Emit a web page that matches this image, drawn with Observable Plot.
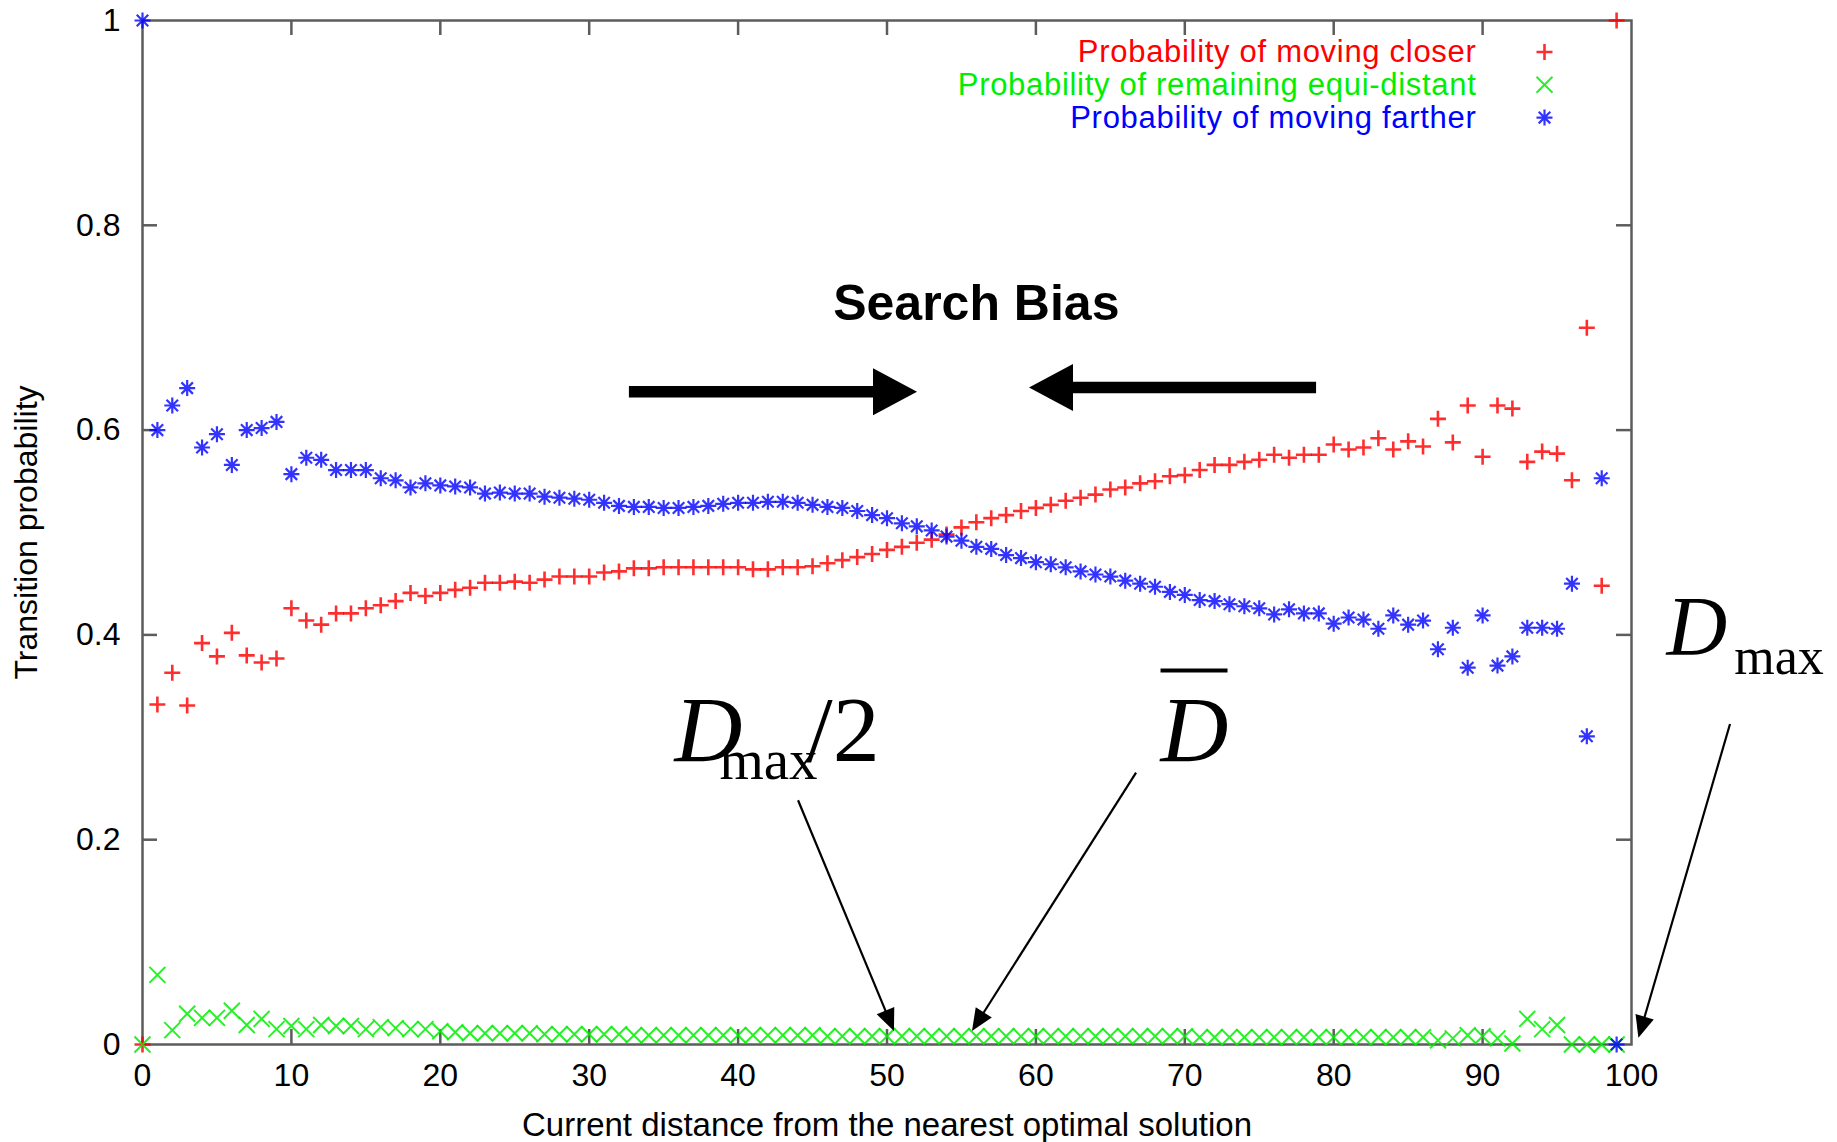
<!DOCTYPE html>
<html><head><meta charset="utf-8">
<script src="https://cdn.jsdelivr.net/npm/d3@7"></script>
<script src="https://cdn.jsdelivr.net/npm/@observablehq/plot@0.6"></script>
<style>html,body{margin:0;padding:0;background:#fff;} svg{display:block;}</style>
</head><body><div id="chart"></div>
<script>
// ---------- data ----------
const distance = Array.from({length: 100}, (_, i) => i);
const pCloser = [
  0, 0.332, 0.363, 0.331, 0.392, 0.379, 0.402, 0.380, 0.373, 0.377,
  0.426, 0.414, 0.410, 0.421, 0.421, 0.426, 0.429, 0.433, 0.441, 0.438,
  0.441, 0.444, 0.446, 0.451, 0.451, 0.452, 0.451, 0.454, 0.457, 0.457,
  0.457, 0.461, 0.462, 0.465, 0.465, 0.466, 0.466, 0.466, 0.466, 0.466,
  0.466, 0.464, 0.464, 0.466, 0.466, 0.467, 0.470, 0.473, 0.476, 0.479,
  0.483, 0.486, 0.490, 0.493, 0.498, 0.505, 0.510, 0.514, 0.517, 0.521,
  0.524, 0.527, 0.531, 0.534, 0.537, 0.542, 0.544, 0.548, 0.550, 0.555,
  0.556, 0.561, 0.566, 0.566, 0.569, 0.571, 0.576, 0.573, 0.576, 0.576,
  0.586, 0.581, 0.583, 0.592, 0.581, 0.589, 0.584, 0.611, 0.588, 0.624,
  0.574, 0.624, 0.621, 0.569, 0.579, 0.577, 0.551, 0.700, 0.448, 1.0
];
const pEqui = [
  0, 0.068, 0.014, 0.030, 0.026, 0.026, 0.033, 0.019, 0.025, 0.015,
  0.018, 0.015, 0.019, 0.018, 0.018, 0.015, 0.017, 0.016, 0.015, 0.015,
  0.013, 0.012, 0.011, 0.011, 0.011, 0.011, 0.011, 0.010, 0.010, 0.010,
  0.010, 0.010, 0.010, 0.009, 0.009, 0.009, 0.009, 0.009, 0.009, 0.009,
  0.009, 0.009, 0.009, 0.009, 0.009, 0.009, 0.008, 0.008, 0.008, 0.008,
  0.008, 0.008, 0.008, 0.008, 0.008, 0.008, 0.008, 0.008, 0.008, 0.008,
  0.008, 0.008, 0.008, 0.008, 0.008, 0.008, 0.008, 0.008, 0.008, 0.008,
  0.008, 0.007, 0.007, 0.007, 0.007, 0.007, 0.007, 0.007, 0.007, 0.007,
  0.007, 0.007, 0.007, 0.007, 0.007, 0.007, 0.007, 0.004, 0.006, 0.009,
  0.008, 0.006, 0.001, 0.025, 0.015, 0.019, 0.0, 0.0, 0.0, 0.0
];
const pFarther = [
  1.0, 0.600, 0.624, 0.641, 0.583, 0.596, 0.566, 0.600, 0.602, 0.608,
  0.557, 0.573, 0.571, 0.561, 0.561, 0.561, 0.553, 0.551, 0.544, 0.548,
  0.546, 0.545, 0.544, 0.538, 0.539, 0.538, 0.538, 0.535, 0.534, 0.533,
  0.532, 0.529, 0.526, 0.525, 0.525, 0.524, 0.524, 0.525, 0.526, 0.528,
  0.529, 0.529, 0.530, 0.530, 0.529, 0.527, 0.525, 0.524, 0.521, 0.517,
  0.514, 0.509, 0.506, 0.502, 0.496, 0.492, 0.486, 0.484, 0.478, 0.475,
  0.471, 0.469, 0.466, 0.462, 0.459, 0.457, 0.453, 0.450, 0.447, 0.442,
  0.439, 0.434, 0.433, 0.430, 0.428, 0.426, 0.420, 0.425, 0.421, 0.421,
  0.411, 0.417, 0.415, 0.406, 0.419, 0.410, 0.414, 0.386, 0.407, 0.368,
  0.419, 0.370, 0.379, 0.407, 0.407, 0.406, 0.450, 0.301, 0.553, 0
];
const xTicks = [0, 10, 20, 30, 40, 50, 60, 70, 80, 90, 100];
const yTicks = [0, 0.2, 0.4, 0.6, 0.8, 1];
const seriesNames = [
  "Probability of moving closer",
  "Probability of remaining equi-distant",
  "Probability of moving farther"
];
const xTitle = "Current distance from the nearest optimal solution";
const yTitle = "Transition probability";
const biasTitle = "Search Bias";

// ---------- annotations (data coordinates) ----------
const biasArrows = [
  {from: [32.7, 0.637], to: [52.05, 0.637]},
  {from: [78.85, 0.641], to: [59.57, 0.641]}
];
const pointerArrows = [
  {from: [44.06, 0.238], to: [50.5, 0.0127]},
  {from: [66.76, 0.265], to: [55.74, 0.0127]},
  {from: [106.65, 0.3125], to: [100.5, 0.006]}
];

// ---------- layout / style ----------
const W = 1837, H = 1142, ML = 142, MR = 206, MT = 20, MB = 98;
const FW = W - ML - MR, FH = H - MT - MB;
const axisColor = "#5c5c5c";
const colors = ["#ff0000", "#00ee00", "#0000ff"];
const serif = "'Liberation Serif', 'Times New Roman', serif";

const symPlus = {draw(c, s) { const r = Math.sqrt(s / Math.PI);
  c.moveTo(-r, 0); c.lineTo(r, 0); c.moveTo(0, -r); c.lineTo(0, r); }};
const symTimes = {draw(c, s) { const r = Math.sqrt(s / Math.PI);
  c.moveTo(-r, -r); c.lineTo(r, r); c.moveTo(-r, r); c.lineTo(r, -r); }};
const symStar = {draw(c, s) { const r = Math.sqrt(s / Math.PI), q = r * 0.72;
  c.moveTo(-r, 0); c.lineTo(r, 0); c.moveTo(0, -r); c.lineTo(0, r);
  c.moveTo(-q, -q); c.lineTo(q, q); c.moveTo(-q, q); c.lineTo(q, -q); }};
const symbols = [symPlus, symTimes, symStar];
const widths = [2.6, 2, 2.2];
const opac = [0.82, 0.85, 0.8];
const seriesVals = [pCloser, pEqui, pFarther];

const marks = [
  Plot.frame({stroke: axisColor, strokeWidth: 2.5}),
  Plot.tickX(xTicks.slice(1, -1), {x: d => d, insetTop: FH - 15, stroke: axisColor, strokeWidth: 2.5}),
  Plot.tickX(xTicks.slice(1, -1), {x: d => d, insetBottom: FH - 15, stroke: axisColor, strokeWidth: 2.5}),
  Plot.tickY(yTicks.slice(1, -1), {y: d => d, insetRight: FW - 15, stroke: axisColor, strokeWidth: 2.5}),
  Plot.tickY(yTicks.slice(1, -1), {y: d => d, insetLeft: FW - 15, stroke: axisColor, strokeWidth: 2.5}),
  Plot.axisX(xTicks, {anchor: "bottom", tickSize: 0, tickPadding: 19, fontSize: 32, label: null, tickFormat: d => String(d)}),
  Plot.axisY(yTicks, {anchor: "left", tickSize: 0, tickPadding: 22, fontSize: 32, label: null, tickFormat: d3.format("~g")}),
  Plot.text([xTitle], {frameAnchor: "bottom", dy: 81, lineAnchor: "middle", fontSize: 33}),
  Plot.text([yTitle], {frameAnchor: "left", dx: -116, rotate: -90, lineAnchor: "middle", textAnchor: "middle", fontSize: 32})
];

seriesVals.forEach((vals, k) => {
  marks.push(Plot.dot(distance, {
    x: d => d, y: d => vals[d], symbol: symbols[k], r: 8,
    fill: "none", stroke: colors[k], strokeWidth: widths[k], strokeOpacity: opac[k]
  }));
});
seriesNames.forEach((name, k) => {
  marks.push(Plot.text([name], {frameAnchor: "top-right", dx: -155, dy: 31.5 + k * 32.8,
    textAnchor: "end", lineAnchor: "middle", fill: colors[k], fontSize: 31}));
  marks.push(Plot.dot([name], {frameAnchor: "top-right", dx: -87, dy: 31.5 + k * 32.8,
    symbol: symbols[k], r: 8, fill: "none", stroke: colors[k], strokeWidth: widths[k], strokeOpacity: opac[k]}));
});

// annotation texts
marks.push(
  Plot.text([biasTitle], {x: () => 56.0, y: () => 0.708, lineAnchor: "bottom", textAnchor: "middle",
    fontSize: 50, fontWeight: "bold", fill: "black"}),
  // D_max / 2
  Plot.text(["D"], {x: () => 35.73, y: () => 0.2764, lineAnchor: "bottom", textAnchor: "start",
    fontFamily: serif, fontStyle: "italic", fontSize: 94, fill: "black"}),
  Plot.text(["max"], {x: () => 38.75, y: () => 0.2588, lineAnchor: "bottom", textAnchor: "start",
    fontFamily: serif, fontSize: 57, fill: "black"}),
  Plot.text(["/2"], {x: () => 44.6, y: () => 0.2764, lineAnchor: "bottom", textAnchor: "start",
    fontFamily: serif, fontSize: 94, fill: "black"}),
  // D bar
  Plot.text(["D"], {x: () => 68.37, y: () => 0.2764, lineAnchor: "bottom", textAnchor: "start",
    fontFamily: serif, fontStyle: "italic", fontSize: 94, fill: "black"}),
  Plot.link([0], {x1: () => 68.37, x2: () => 72.87, y1: () => 0.3652, y2: () => 0.3652, stroke: "black", strokeWidth: 4}),
  // D_max
  Plot.text(["D"], {x: () => 102.35, y: () => 0.3799, lineAnchor: "bottom", textAnchor: "start",
    fontFamily: serif, fontStyle: "italic", fontSize: 84, fill: "black"}),
  Plot.text(["max"], {x: () => 106.9, y: () => 0.3614, lineAnchor: "bottom", textAnchor: "start",
    fontFamily: serif, fontSize: 52, fill: "black"})
);

const plot = Plot.plot({
  width: W, height: H,
  marginLeft: ML, marginRight: MR, marginTop: MT, marginBottom: MB,
  x: {domain: [0, 100], label: null},
  y: {domain: [0, 1], label: null},
  style: {fontFamily: "'Liberation Sans', Arial, Helvetica, sans-serif", fontSize: "32px", background: "white", overflow: "visible"},
  marks
});
document.getElementById("chart").appendChild(plot);

// widen the legend labels a little (gnuplot's font runs wider than Liberation Sans)
d3.select(plot).selectAll("text").filter(function() { return seriesNames.includes(this.textContent); })
  .style("letter-spacing", "0.7px");

// ---------- arrows drawn through the plot's scales ----------
const sx = plot.scale("x"), sy = plot.scale("y");
const svg = d3.select(plot);
const g = svg.append("g");
function arrow(a, shaftW, headL, headHalf) {
  const x1 = sx.apply(a.from[0]), y1 = sy.apply(a.from[1]);
  const x2 = sx.apply(a.to[0]), y2 = sy.apply(a.to[1]);
  const dx = x2 - x1, dy = y2 - y1, len = Math.hypot(dx, dy);
  const ux = dx / len, uy = dy / len, px = -uy, py = ux;
  const bx = x2 - ux * headL, by = y2 - uy * headL;
  g.append("line").attr("x1", x1).attr("y1", y1).attr("x2", bx + ux * 1).attr("y2", by + uy * 1)
    .attr("stroke", "black").attr("stroke-width", shaftW);
  g.append("path").attr("d", `M${x2},${y2}L${bx + px * headHalf},${by + py * headHalf}L${bx - px * headHalf},${by - py * headHalf}Z`)
    .attr("fill", "black");
}
biasArrows.forEach(a => arrow(a, 11.5, 44, 23.5));
pointerArrows.forEach(a => arrow(a, 2.2, 22, 9.5));
</script>
</body></html>
